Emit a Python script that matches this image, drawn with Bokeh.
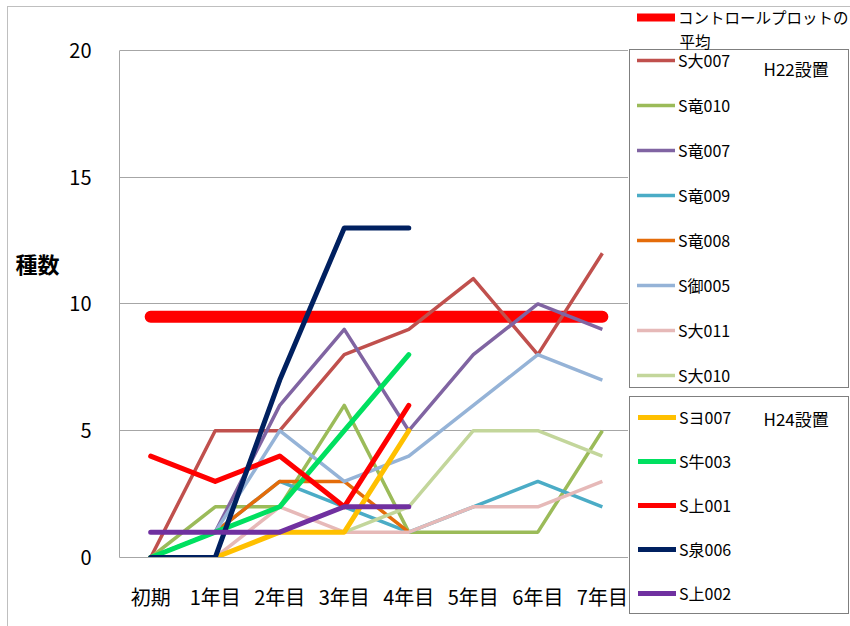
from bokeh.plotting import figure
from bokeh.layouts import row, column
from bokeh.models import Legend, LegendItem, Label, FixedTicker, Range1d
from bokeh.embed import file_html
from bokeh.resources import INLINE

nan = float("nan")

# Survey years
years = ["初期", "1年目", "2年目", "3年目", "4年目", "5年目", "6年目", "7年目"]
year_pos = list(range(len(years)))

# Average of the control plots
control_avg = [9.5, 9.5, 9.5, 9.5, 9.5, 9.5, 9.5, 9.5]

# Plots set up in H22 (seven years of records)
s_dai007 = [0, 5, 5, 8, 9, 11, 8, 12]
s_ryu010 = [0, 2, 2, 6, 1, 1, 1, 5]
s_ryu007 = [0, 1, 6, 9, 5, 8, 10, 9]
s_ryu009 = [0, 1, 3, 2, 1, 2, 3, 2]
s_ryu008 = [0, 1, 3, 3, 1, nan, nan, nan]
s_go005 = [0, 1, 5, 3, 4, 6, 8, 7]
s_dai011 = [0, 0, 2, 1, 1, 2, 2, 3]
s_dai010 = [0, 1, 1, 1, 2, 5, 5, 4]

# Plots set up in H24 (four years of records)
s_yo007 = [0, 0, 1, 1, 5, nan, nan, nan]
s_ushi003 = [0, 1, 2, 5, 8, nan, nan, nan]
s_kami001 = [4, 3, 4, 2, 6, nan, nan, nan]
s_izumi006 = [0, 0, 7, 13, 13, nan, nan, nan]
s_kami002 = [1, 1, 1, 2, 2, nan, nan, nan]

h22_series = [
    ("S大007", s_dai007, "#C0504D"),
    ("S竜010", s_ryu010, "#9BBB59"),
    ("S竜007", s_ryu007, "#8064A2"),
    ("S竜009", s_ryu009, "#4BACC6"),
    ("S竜008", s_ryu008, "#E46C0A"),
    ("S御005", s_go005, "#95B3D7"),
    ("S大011", s_dai011, "#E6B9B8"),
    ("S大010", s_dai010, "#C3D69B"),
]
h24_series = [
    ("Sヨ007", s_yo007, "#FFC000"),
    ("S牛003", s_ushi003, "#00E060"),
    ("S上001", s_kami001, "#FF0000"),
    ("S泉006", s_izumi006, "#002060"),
    ("S上002", s_kami002, "#7030A0"),
]

FONT = "Noto Sans CJK JP"
GRID = "#A6A6A6"
EDGE = "#BFBFBF"
H22_W = 3.5
H24_W = 5
CTRL_W = 12
H = 626


def edge_css(left_edge):
    # thin chart-area border painted behind the transparent canvas
    layers = ["linear-gradient(%s, %s) %s 6px / 100%% 1px no-repeat"
              % (EDGE, EDGE, "7px" if left_edge else "0px")]
    if left_edge:
        layers.append("linear-gradient(%s, %s) 7px 6px / 1px 100%% no-repeat" % (EDGE, EDGE))
    return {"background": ", ".join(layers)}


def bare_figure(width):
    f = figure(width=width, height=H, output_backend="svg", toolbar_location=None,
               x_range=(0, 1), y_range=(0, 1),
               x_axis_type=None, y_axis_type=None,
               min_border=0, min_border_left=0, min_border_right=0,
               min_border_top=0, min_border_bottom=0)
    f.outline_line_color = None
    f.xgrid.visible = False
    f.ygrid.visible = False
    f.background_fill_alpha = 0
    f.border_fill_alpha = 0
    return f


# --- y-axis title column -------------------------------------------------
p_title = bare_figure(66)
p_title.styles = edge_css(True)
p_title.add_layout(Label(x=15, y=H - 262, x_units="screen", y_units="screen",
                         text="種数", text_font=FONT, text_font_size="22px",
                         text_font_style="bold", text_baseline="middle",
                         text_color="black"))

# --- main chart -------------------------------------------------------------
p = figure(
    width=562, height=H,
    x_range=Range1d(-0.483, 7.405), y_range=Range1d(0, 21.97),
    output_backend="svg", toolbar_location=None,
    min_border_left=51, min_border_right=0,
    min_border_top=0, min_border_bottom=69,
)
p.styles = edge_css(False)
p.outline_line_color = None
p.background_fill_alpha = 0
p.border_fill_alpha = 0

p.yaxis.ticker = FixedTicker(ticks=[0, 5, 10, 15, 20])
p.yaxis.bounds = (0, 20)
p.yaxis.major_tick_line_color = None
p.yaxis.minor_tick_line_color = None
p.yaxis.axis_line_color = GRID
p.yaxis.major_label_standoff = 22
p.yaxis.major_label_text_font = FONT
p.yaxis.major_label_text_font_size = "20px"
p.yaxis.major_label_text_color = "black"

p.xaxis.ticker = FixedTicker(ticks=year_pos)
p.xaxis.major_label_overrides = {i: lab for i, lab in enumerate(years)}
p.xaxis.major_tick_line_color = None
p.xaxis.minor_tick_line_color = None
p.xaxis.axis_line_color = GRID
p.xaxis.major_label_standoff = 18
p.xaxis.major_label_text_font = FONT
p.xaxis.major_label_text_font_size = "20px"
p.xaxis.major_label_text_color = "black"

p.xgrid.grid_line_color = None
p.ygrid.grid_line_color = GRID
p.ygrid.ticker = FixedTicker(ticks=[5, 10, 15, 20])

# control average first so the plot lines sit on top of it
p.line(year_pos, control_avg, line_color="#FF0000", line_width=CTRL_W, line_cap="round")
for name, vals, color in h22_series:
    p.line(year_pos, vals, line_color=color, line_width=H22_W, line_join="round")
for name, vals, color in h24_series:
    p.line(year_pos, vals, line_color=color, line_width=H24_W,
           line_join="round", line_cap="round")

# --- legend column ------------------------------------------------------------
p_leg = bare_figure(222)
p_leg.styles = edge_css(False)


def swatch(color, width, alpha=1.0):
    # off-range renderer used only for its legend glyph
    return p_leg.line(x=[-5, -4], y=[-5, -4], line_color=color, line_width=width,
                      line_cap="round", line_alpha=alpha)


def make_legend(items, loc, padding, label_height, spacing, border=True,
                label_width=150, size="16px"):
    return Legend(
        items=items, location=loc, margin=0, padding=padding,
        spacing=spacing, glyph_width=38, glyph_height=14,
        label_height=label_height, label_width=label_width, label_standoff=3,
        label_text_font=FONT, label_text_font_size=size,
        label_text_color="black",
        border_line_color="black" if border else None, border_line_width=1,
        background_fill_alpha=0.0,
    )


ctrl_item = LegendItem(label="コントロールプロットの", renderers=[swatch("#FF0000", 8)])
h22_items = [LegendItem(label=n, renderers=[swatch(c, H22_W)]) for n, _, c in h22_series]
h24_items = [LegendItem(label=n, renderers=[swatch(c, H24_W)]) for n, _, c in h24_series]

# frame of the H22 group (a single blank entry sized to the box)
h22_box = make_legend([LegendItem(label=" ", renderers=[swatch("#FFFFFF", 1, 0.0)])],
                      (1, H - 388), 0, 337, 0, label_width=177)

p_leg.add_layout(make_legend([ctrl_item], (9, H - 28), 0, 16, 0, border=False,
                             label_width=160, size="15.5px"))
p_leg.add_layout(h22_box)
p_leg.add_layout(make_legend(h22_items, (9, H - 387), 8, 24, 21, border=False))
p_leg.add_layout(make_legend(h24_items, (1, H - 614), 8, 24, 20, label_width=161))


def screen_label(text, x, y, size):
    return Label(x=x, y=y, x_units="screen", y_units="screen", text=text,
                 text_font=FONT, text_font_size=size, text_baseline="middle",
                 text_color="black")


p_leg.add_layout(screen_label("平均", 51, H - 40, "15.5px"))
p_leg.add_layout(screen_label("H22設置", 135, H - 68, "17px"))
p_leg.add_layout(screen_label("H24設置", 135, H - 418, "17px"))

layout = row(column(p_title), p, column(p_leg), spacing=0)

open("out.html", "w").write(file_html(layout, INLINE))
